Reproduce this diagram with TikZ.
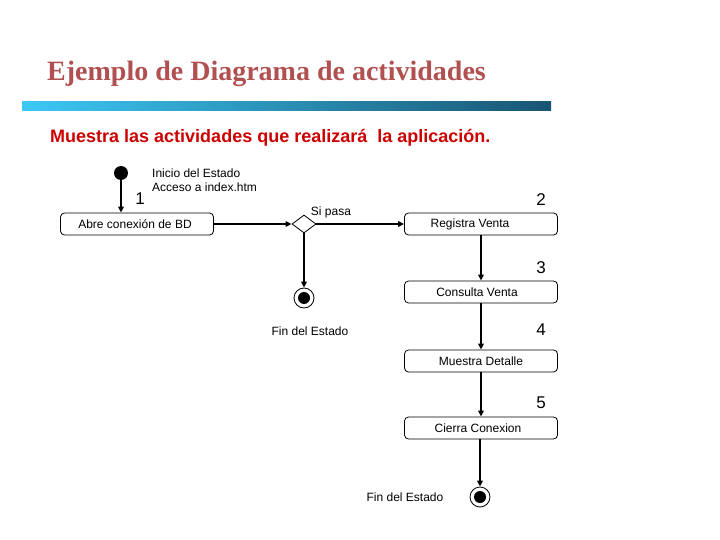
\documentclass[tikz,border=0pt]{standalone}
\usepackage{fontspec}
\setmainfont{Liberation Serif}
\setsansfont{Liberation Sans}
\usetikzlibrary{arrows.meta,shapes.geometric}
\definecolor{titlered}{RGB}{176,80,80}
\definecolor{subred}{RGB}{204,0,0}
\definecolor{barleft}{RGB}{60,200,245}
\definecolor{barright}{RGB}{25,85,115}
\tikzset{
  actbox/.style={draw,rounded corners=4pt,minimum width=153pt,minimum height=22pt,inner sep=0pt,font=\sffamily\fontsize{12}{13}\selectfont,line width=0.8pt},
  flow/.style={line width=1.5pt,-{Triangle[length=6pt,width=5.5pt]}},
  lbl/.style={font=\sffamily\fontsize{12}{14}\selectfont,inner sep=0pt},
  num/.style={font=\sffamily\fontsize{17}{17}\selectfont,inner sep=0pt},
}
\begin{document}
\begin{tikzpicture}[x=1pt,y=-1pt]
\useasboundingbox (0,0) rectangle (720,540);
% title
\node[anchor=west,inner sep=0pt,text=titlered,font=\bfseries\fontsize{28}{30}\selectfont] (title) at (47,74) {Ejemplo de Diagrama de actividades};
\shade[left color=barleft,right color=barright] (22,102) rectangle (551,111);
\node[anchor=west,inner sep=0pt,text=subred,font=\sffamily\bfseries\fontsize{18}{20}\selectfont] (sub) at (50,138) {Muestra las actividades que realizará\ \ la aplicación.};
% start
\node[circle,fill=black,minimum size=14pt,inner sep=0pt] (start) at (121,173) {};
\node[lbl,anchor=west,align=left] (inicio) at (152,180) {Inicio del Estado\\Acceso a index.htm};
\node[num] (n1) at (140,199) {1};
\node[actbox] (abre) at (137,224) {\hspace*{-4pt}Abre conexión de BD};
\draw[flow] (start) -- (abre.north -| start);
% decision
\node[diamond,draw,line width=0.8pt,minimum width=24pt,minimum height=18pt,inner sep=0pt] (dec) at (304,224) {};
\draw[flow] (abre) -- (dec);
\node[lbl] (sipasa) at (331,212) {Si pasa};
\node[actbox] (reg) at (481,224) {\hspace*{-22pt}Registra Venta};
\node[num] (n2) at (541,200) {2};
\draw[flow] (dec) -- (reg);
% final 1
\node[circle,draw,line width=0.8pt,minimum size=20pt,inner sep=0pt] (fin1) at (304,298) {};
\node[circle,fill=black,minimum size=12pt,inner sep=0pt] (fin1in) at (304,298) {};
\draw[flow] (dec) -- (fin1);
\node[lbl] (fin1l) at (310,331) {Fin del Estado};
% chain
\node[actbox] (cons) at (481,292) {\hspace*{-8pt}Consulta Venta};
\node[num] (n3) at (541,268) {3};
\node[actbox] (mues) at (481,361) {Muestra Detalle};
\node[num] (n4) at (541,330) {4};
\node[actbox] (cier) at (481,428) {\hspace*{-6pt}Cierra Conexion};
\node[num] (n5) at (541,403) {5};
\draw[flow] (reg) -- (cons);
\draw[flow] (cons) -- (mues);
\draw[flow] (mues) -- (cier);
\node[circle,draw,line width=0.8pt,minimum size=20pt,inner sep=0pt] (fin2) at (480,497) {};
\node[circle,fill=black,minimum size=12pt,inner sep=0pt] (fin2in) at (480,497) {};
\draw[flow] (cier.south -| fin2) -- (fin2);
\node[lbl] (fin2l) at (405,497) {Fin del Estado};
\end{tikzpicture}
\end{document}
